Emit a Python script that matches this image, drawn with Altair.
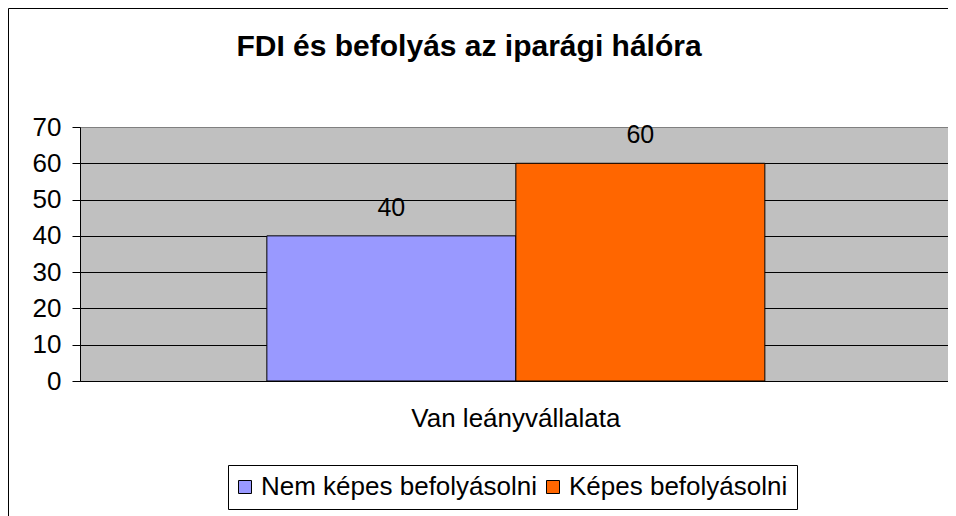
import altair as alt
import pandas as pd

categories = ["Van leányvállalata"]
series = ["Nem képes befolyásolni", "Képes befolyásolni"]
values = [40, 60]
colors = ["#9999FF", "#FF6600"]
y_ticks = [0, 10, 20, 30, 40, 50, 60, 70]
title_text = "FDI és befolyás az iparági hálóra"

df = pd.DataFrame({
    "kategoria": [categories[0]] * len(series),
    "sorozat": series,
    "ertek": values,
})

FONT = "Liberation Sans"
W, H = 868, 254

x_enc = alt.X(
    "kategoria:N",
    title=None,
    scale=alt.Scale(paddingInner=0, paddingOuter=0.3715, align=0.505),
    axis=alt.Axis(labelAngle=0, labelFontSize=26, labelFont=FONT, labelColor="black",
                  tickSize=0, labelPadding=24, domainColor="black", domainWidth=1,
                  labelLimit=500, grid=False),
)
xo_enc = alt.XOffset("sorozat:N", sort=series,
                     scale=alt.Scale(paddingInner=0, paddingOuter=0))
y_enc = alt.Y(
    "ertek:Q",
    title=None,
    scale=alt.Scale(domain=[0, 70], nice=False),
    axis=alt.Axis(values=y_ticks, labelFontSize=26, labelFont=FONT, labelColor="black",
                  tickSize=8, tickColor="black", labelPadding=11,
                  domainColor="black",
                  gridColor={"condition": {"test": "datum.value === 70", "value": "#808080"},
                             "value": "black"},
                  gridWidth=1, grid=True),
)

base = alt.Chart(df)

bars = base.mark_bar(stroke="black", strokeWidth=1).encode(
    x=x_enc,
    xOffset=xo_enc,
    y=y_enc,
    color=alt.Color(
        "sorozat:N",
        sort=series,
        scale=alt.Scale(domain=series, range=colors),
        legend=alt.Legend(
            title=None, orient="none", direction="horizontal",
            legendX=148, legendY=338,
            symbolType="square", symbolSize=169, symbolOffset=-5,
            symbolStrokeColor="black", symbolStrokeWidth=1,
            labelFontSize=26, labelFont=FONT, labelColor="black",
            labelOffset=3, columnPadding=6, padding=9, labelLimit=400,
            strokeColor="black", fillColor="white",
        ),
    ),
)

labels = base.mark_text(fontSize=25, font=FONT, color="black",
                        baseline="alphabetic", dy=-20).encode(
    x=x_enc,
    xOffset=xo_enc,
    y=y_enc,
    text=alt.Text("ertek:Q"),
)

frame_df = pd.DataFrame({"k": [0]})
frame = alt.Chart(frame_df).mark_rect(fill=None, stroke="black", strokeWidth=1).encode(
    x=alt.value(-71.5), x2=alt.value(900), y=alt.value(-118.5), y2=alt.value(420)
)

chart = alt.layer(bars, labels, frame).properties(
    width=W,
    height=H,
    title=alt.TitleParams(title_text, fontSize=30, font=FONT, fontWeight="bold",
                          color="black", anchor="middle", frame="group",
                          dx=-45, offset=-54),
    autosize=alt.AutoSizeParams(type="none"),
    padding={"left": 72, "top": 119, "right": 0, "bottom": 135},
    background="white",
).configure_view(
    fill="#C0C0C0", stroke="#808080", strokeWidth=1
)

chart.save("out.html", embed_options={"renderer": "svg", "actions": False})
